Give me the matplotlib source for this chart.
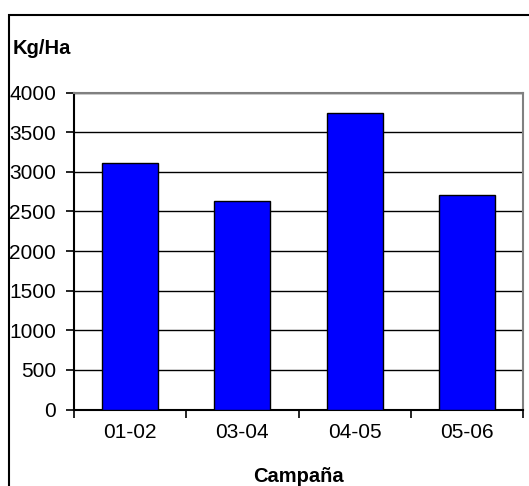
import matplotlib
matplotlib.use("Agg")
import matplotlib.pyplot as plt
from matplotlib.patches import Rectangle
from matplotlib.ticker import FixedLocator, NullFormatter

plt.rcParams['font.family'] = ['Liberation Sans', 'DejaVu Sans']

campaigns = ["01-02", "03-04", "04-05", "05-06"]
yield_kg_ha = [3110, 2630, 3740, 2710]
y_ticks = [0, 500, 1000, 1500, 2000, 2500, 3000, 3500, 4000]

W, H = 529, 486
fig = plt.figure(figsize=(W / 100, H / 100), dpi=100)
fig.patch.set_facecolor("white")

# outer chart frame (runs off the right and bottom edges)
fig.patches.append(Rectangle((8.5 / W, -0.1), 1.2, 1 - 14.5 / H + 0.1,
                             transform=fig.transFigure, fill=False,
                             edgecolor="black", linewidth=1.5))

ax = fig.add_axes([74 / W, 1 - 409.5 / H, (523 - 74) / W, (409.5 - 92.7) / H])

x = list(range(len(campaigns)))
ax.bar(x, yield_kg_ha, width=0.5, color="#0000FF", edgecolor="black",
       linewidth=1.0, zorder=3)

ax.set_xlim(-0.5, len(campaigns) - 0.5)
ax.set_ylim(0, 4000)
ax.set_yticks(y_ticks)
ax.yaxis.grid(True, color="black", linewidth=1.0, zorder=0)
ax.set_axisbelow(True)

ax.set_xticks(x)
ax.set_xticklabels(campaigns)
ax.xaxis.set_minor_locator(FixedLocator([i - 0.5 for i in range(len(campaigns) + 1)]))
ax.xaxis.set_minor_formatter(NullFormatter())
ax.tick_params(axis="x", which="major", length=0, pad=10, labelsize=15)
ax.tick_params(axis="x", which="minor", length=6, width=1.2, direction="out")
ax.tick_params(axis="y", length=6, width=1.2, direction="out", pad=7, labelsize=15)

for side in ("left", "bottom"):
    ax.spines[side].set_color("black")
    ax.spines[side].set_linewidth(1.5)
for side in ("top", "right"):
    ax.spines[side].set_color("#808080")
    ax.spines[side].set_linewidth(1.5)

ax.set_xlabel("Campaña", fontsize=14.5, fontweight="bold", labelpad=18)
fig.text(13 / W, 1 - 48 / H, "Kg/Ha", fontsize=14.5, fontweight="bold",
         ha="left", va="center")

fig.savefig("out.png", dpi=100)
